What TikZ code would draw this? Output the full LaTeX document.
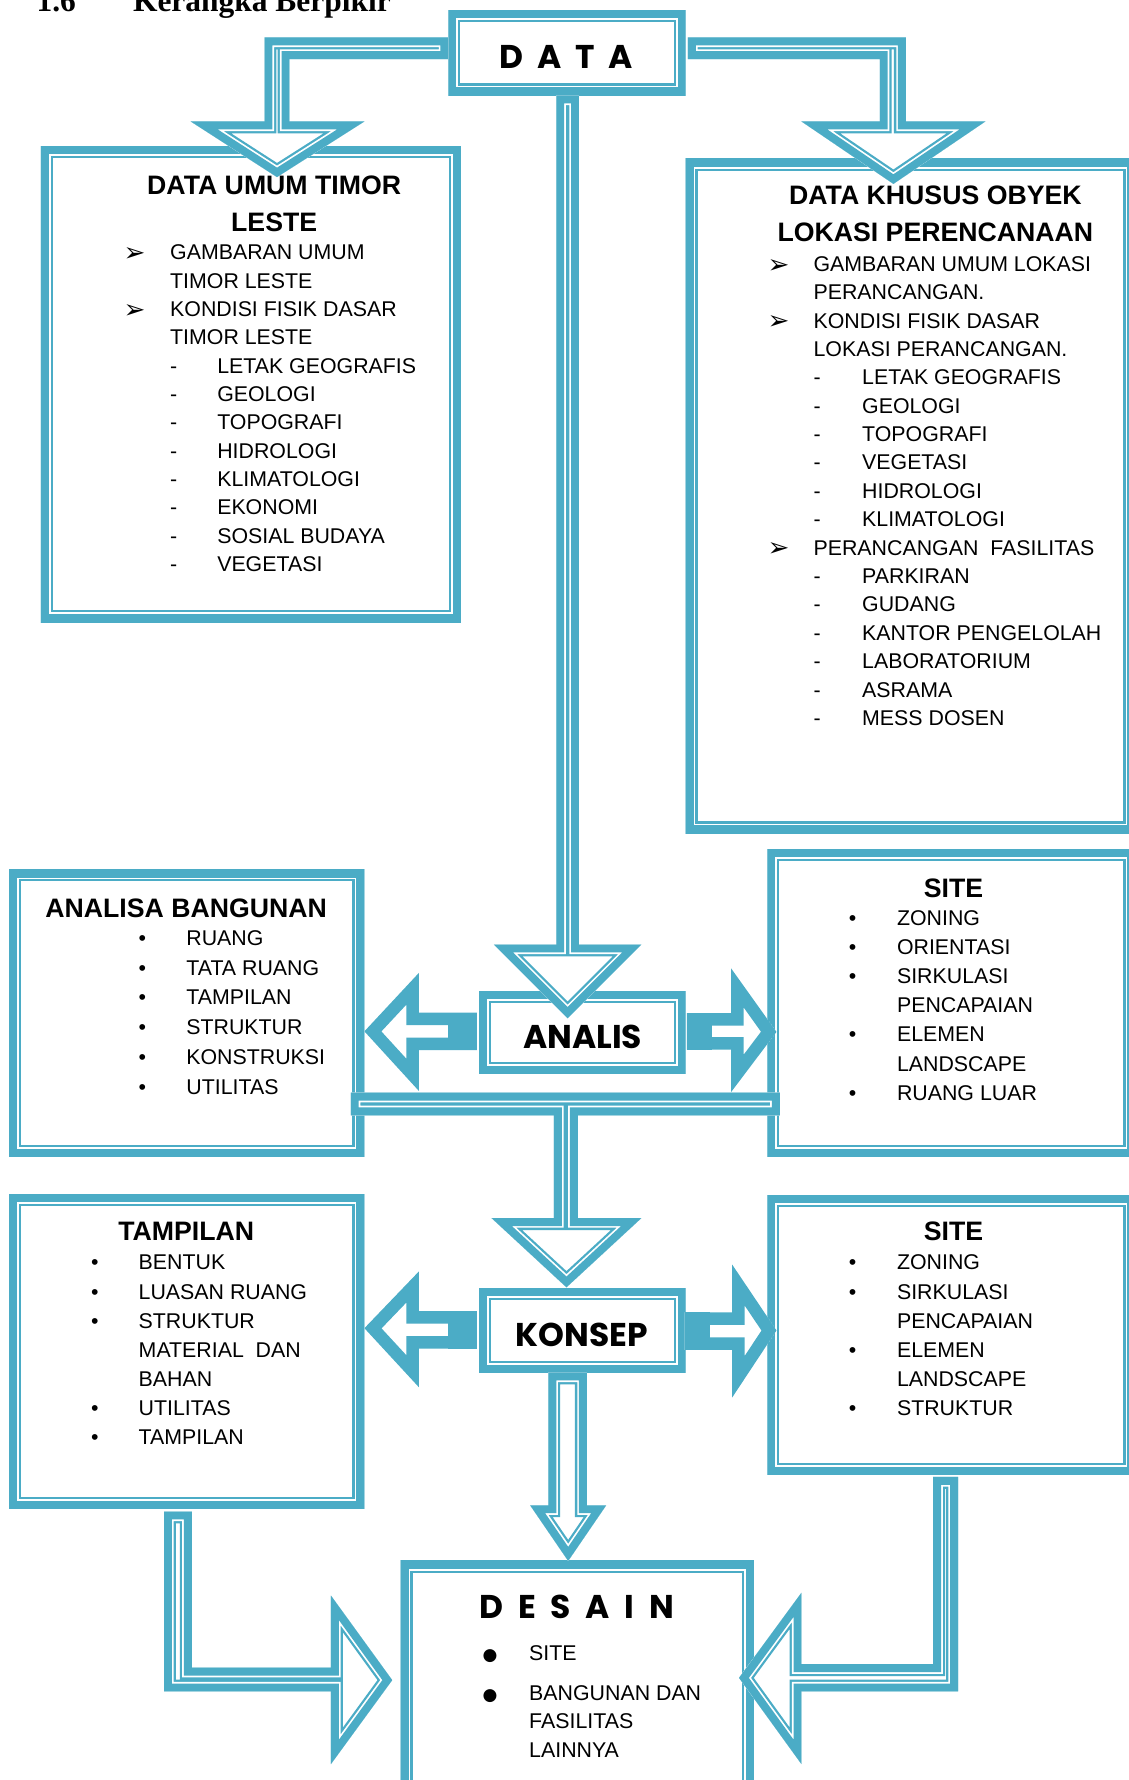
\documentclass[tikz,border=0pt]{standalone}
\usepackage{fontspec}
\setmainfont{Liberation Sans}
\newfontfamily\serifhead{Liberation Serif}
\newfontfamily\symfont{DejaVu Sans}
\newfontfamily\comicfont{Poppins}
\usetikzlibrary{calc}

\definecolor{aqua}{RGB}{75,172,198}

% garis tebal di luar, tipis di dalam
\newcommand\tebaltipis[1]{%
  \begin{scope}
    \clip #1;
    \fill[white] #1;
    \draw[aqua, line width=21pt] #1;
    \draw[white, line width=17pt] #1;
    \draw[aqua, line width=14pt] #1;
  \end{scope}}
% panah samping, garis tebal saja
\newcommand\panahtebal[1]{%
  \begin{scope}
    \clip #1;
    \fill[white] #1;
    \draw[aqua, line width=22pt] #1;
  \end{scope}}

% butir daftar
\newcommand\panahbutir[2]{\makebox[#1][l]{\raisebox{-1.5pt}{\symfont\fontsize{23}{23}\selectfont ➢}}#2}
\newcommand\strip[3]{\hspace*{#1}\makebox[#2][l]{-}#3}
\newcommand\titik[2]{\makebox[#1][l]{•}#2}
\newcommand\bulat[2]{\makebox[#1][l]{\symfont\fontsize{15}{15}\selectfont ●}#2}

\tikzset{
  kotak/.style={inner sep=0pt, outer sep=0pt},
  judul/.style={inner sep=0pt, anchor=base, font=\fontsize{23.5}{32.5}\selectfont\bfseries},
  isi/.style={inner sep=0pt, anchor=base west},
  huruf/.style={inner sep=0pt, anchor=base, font=\comicfont\bfseries\fontsize{29}{29}\selectfont},
}

\begin{document}
\begin{tikzpicture}[x=1pt, y=-1pt, line join=miter]
  \useasboundingbox (0,0) rectangle (994,1568);

  % Judul bab
  \node[inner sep=0pt, anchor=base west, font=\serifhead\bfseries\fontsize{27.7}{30}\selectfont] (nomor) at (32,10.3) {1.6};
  \node[inner sep=0pt, anchor=base west, font=\serifhead\bfseries\fontsize{27.7}{30}\selectfont] (bab) at (117,10.3) {Kerangka Berpikir};

  % Kotak-kotak
  \node[kotak, minimum width=209pt, minimum height=75pt] (data) at (499.5,46.5) {};
  \node[kotak, minimum width=370pt, minimum height=419pt] (umum) at (221,338.5) {};
  \node[kotak, minimum width=396pt, minimum height=594pt] (khusus) at (802,437) {};
  \node[kotak, minimum width=313pt, minimum height=253pt] (analisa) at (164.5,892.5) {};
  \node[kotak, minimum width=324pt, minimum height=271pt] (site1) at (838,883.5) {};
  \node[kotak, minimum width=182pt, minimum height=73pt] (analis) at (513,909.5) {};
  \node[kotak, minimum width=313pt, minimum height=277pt] (tampilan) at (164.5,1190.5) {};
  \node[kotak, minimum width=324pt, minimum height=246pt] (site2) at (838,1176) {};
  \node[kotak, minimum width=182pt, minimum height=74pt] (konsep) at (513,1172) {};
  \node[kotak, minimum width=311pt, minimum height=215pt] (desain) at (508.5,1482.5) {};
  \foreach \n in {data,umum,khusus,analisa,site1,analis,tampilan,site2,konsep,desain}
    \tebaltipis{(\n.north west) rectangle (\n.south east)};

  % Panah dari DATA
  \tebaltipis{($(data.west)+(0,-13.5)$) -- ++(-162,0) -- ++(0,74) -- ++(-65,0) -- ++(76,49) -- ++(77,-49) -- ++(-66,0) -- ++(0,-55) -- ++(140,0) -- cycle}
  \tebaltipis{($(data.east)+(2,-13.5)$) -- ++(192,0) -- ++(0,74) -- ++(70,0) -- ++(-81,55) -- ++(-81,-55) -- ++(69,0) -- ++(0,-55) -- ++(-169,0) -- cycle}
  \tebaltipis{($(data.south)+(-9.5,0)$) -- ++(0,748) -- ++(-55,0) -- ++(65,65) -- ++(65,-65) -- ++(-55,0) -- ++(0,-748) -- cycle}

  % Panah samping ANALIS
  \panahtebal{($(analis.west)+(-2,-17.5)$) -- ++(-51,0) -- ++(0,-35) -- ++(-48,51.5) -- ++(48,52.5) -- ++(0,-36) -- ++(51,0) -- cycle}
  \fill[aqua] ($(analis.west)+(-27,-17.5)$) rectangle ++(25,33);
  \panahtebal{($(analis.east)+(1,-17)$) -- ++(39,0) -- ++(0,-39.5) -- ++(40,56) -- ++(-40,53) -- ++(0,-37.5) -- ++(-39,0) -- cycle}
  \fill[aqua] ($(analis.east)+(1,-17)$) rectangle ++(22,32);

  % Panah samping KONSEP
  \panahtebal{($(konsep.west)+(-2,-17)$) -- ++(-51,0) -- ++(0,-35) -- ++(-48,50) -- ++(48,52) -- ++(0,-34) -- ++(51,0) -- cycle}
  \fill[aqua] ($(konsep.west)+(-27,-17)$) rectangle ++(25,33);
  \panahtebal{($(konsep.east)+(-1,-16)$) -- ++(42,0) -- ++(0,-42) -- ++(39,58) -- ++(-39,59) -- ++(0,-42) -- ++(-42,0) -- cycle}
  \fill[aqua] ($(konsep.east)+(-1,-16)$) rectangle ++(22,33);

  % ANALIS ke KONSEP
  \tebaltipis{($(analis.south)+(-204,16.5)$) -- ++(378,0) -- ++(0,20) -- ++(-178,0) -- ++(0,90.5) -- ++(56,0) -- ++(-66,61) -- ++(-66,-61) -- ++(55,0) -- ++(0,-90.5) -- ++(-179,0) -- cycle}

  % Panah ke DESAIN
  \tebaltipis{($(konsep.south)+(-30,0)$) -- ++(0,117) -- ++(-16,0) -- ++(33.5,49) -- ++(33.5,-49) -- ++(-17,0) -- ++(0,-117) -- cycle}
  \tebaltipis{($(tampilan.south)+(-20,2.5)$) -- ++(0,158.5) -- ++(147,0) -- ++(0,64) -- ++(54,-74) -- ++(-54,-74.5) -- ++(0,63.5) -- ++(-122.5,0) -- ++(0,-137.5) -- cycle}
  \tebaltipis{($(site2.south)+(6,2)$) -- ++(0,189) -- ++(-138,0) -- ++(0,64) -- ++(-55,-76) -- ++(55,-75) -- ++(0,63) -- ++(116,0) -- ++(0,-165) -- cycle}

  % Tulisan blok
  \node[huruf] (tdata) at (498.6,60.2) {D\hspace{12pt}A\hspace{12pt}T\hspace{12pt}A};
  \node[huruf] (tanalis) at (513.2,923.6) {ANALIS};
  \node[huruf] (tkonsep) at (512.5,1185.8) {KONSEP};
  \node[huruf] (tdesain) at (508,1426) {D\hspace{13pt}E\hspace{13pt}S\hspace{13pt}A\hspace{13pt}I\hspace{13pt}N};

  % Judul kotak
  \node[judul] (jumum) at (241.5,171) {\begin{tabular}[t]{@{}c@{}}DATA UMUM TIMOR\\ LESTE\end{tabular}};
  \node[judul] (jkhusus) at (824,180) {\begin{tabular}[t]{@{}c@{}}DATA KHUSUS OBYEK\\ LOKASI PERENCANAAN\end{tabular}};
  \node[judul] (janalisa) at (164,808) {ANALISA BANGUNAN};
  \node[judul] (jsite1) at (840,790.5) {SITE};
  \node[judul] (jsite2) at (840,1093) {SITE};
  \node[judul] (jtampilan) at (164,1093) {TAMPILAN};

  % Isi kotak
  \node[isi, font=\fontsize{18.8}{24.95}\selectfont] (iumum) at (108.7,229) {\begin{tabular}[t]{@{}l@{}}
    \panahbutir{41pt}{GAMBARAN UMUM}\\
    \hspace*{41pt}TIMOR LESTE\\
    \panahbutir{41pt}{KONDISI FISIK DASAR}\\
    \hspace*{41pt}TIMOR LESTE\\
    \strip{41pt}{41.5pt}{LETAK GEOGRAFIS}\\
    \strip{41pt}{41.5pt}{GEOLOGI}\\
    \strip{41pt}{41.5pt}{TOPOGRAFI}\\
    \strip{41pt}{41.5pt}{HIDROLOGI}\\
    \strip{41pt}{41.5pt}{KLIMATOLOGI}\\
    \strip{41pt}{41.5pt}{EKONOMI}\\
    \strip{41pt}{41.5pt}{SOSIAL BUDAYA}\\
    \strip{41pt}{41.5pt}{VEGETASI}
  \end{tabular}};
  \node[isi, font=\fontsize{18.8}{25}\selectfont] (ikhusus) at (676,239) {\begin{tabular}[t]{@{}l@{}}
    \panahbutir{40.5pt}{GAMBARAN UMUM LOKASI}\\
    \hspace*{40.5pt}PERANCANGAN.\\
    \panahbutir{40.5pt}{KONDISI FISIK DASAR}\\
    \hspace*{40.5pt}LOKASI PERANCANGAN.\\
    \strip{40.5pt}{42.8pt}{LETAK GEOGRAFIS}\\
    \strip{40.5pt}{42.8pt}{GEOLOGI}\\
    \strip{40.5pt}{42.8pt}{TOPOGRAFI}\\
    \strip{40.5pt}{42.8pt}{VEGETASI}\\
    \strip{40.5pt}{42.8pt}{HIDROLOGI}\\
    \strip{40.5pt}{42.8pt}{KLIMATOLOGI}\\
    \panahbutir{40.5pt}{PERANCANGAN\ \ FASILITAS}\\
    \strip{40.5pt}{42.8pt}{PARKIRAN}\\
    \strip{40.5pt}{42.8pt}{GUDANG}\\
    \strip{40.5pt}{42.8pt}{KANTOR PENGELOLAH}\\
    \strip{40.5pt}{42.8pt}{LABORATORIUM}\\
    \strip{40.5pt}{42.8pt}{ASRAMA}\\
    \strip{40.5pt}{42.8pt}{MESS DOSEN}
  \end{tabular}};
  \node[isi, font=\fontsize{18.8}{26.2}\selectfont] (ianalisa) at (122,832.8) {\begin{tabular}[t]{@{}l@{}}
    \titik{42pt}{RUANG}\\
    \titik{42pt}{TATA RUANG}\\
    \titik{42pt}{TAMPILAN}\\
    \titik{42pt}{STRUKTUR}\\
    \titik{42pt}{KONSTRUKSI}\\
    \titik{42pt}{UTILITAS}
  \end{tabular}};
  \node[isi, font=\fontsize{18.8}{25.7}\selectfont] (isite1) at (747.5,815) {\begin{tabular}[t]{@{}l@{}}
    \titik{42.5pt}{ZONING}\\
    \titik{42.5pt}{ORIENTASI}\\
    \titik{42.5pt}{SIRKULASI}\\
    \hspace*{42.5pt}PENCAPAIAN\\
    \titik{42.5pt}{ELEMEN}\\
    \hspace*{42.5pt}LANDSCAPE\\
    \titik{42.5pt}{RUANG LUAR}
  \end{tabular}};
  \node[isi, font=\fontsize{18.8}{25.6}\selectfont] (isite2) at (747.5,1118.7) {\begin{tabular}[t]{@{}l@{}}
    \titik{42.5pt}{ZONING}\\
    \titik{42.5pt}{SIRKULASI}\\
    \hspace*{42.5pt}PENCAPAIAN\\
    \titik{42.5pt}{ELEMEN}\\
    \hspace*{42.5pt}LANDSCAPE\\
    \titik{42.5pt}{STRUKTUR}
  \end{tabular}};
  \node[isi, font=\fontsize{18.8}{25.6}\selectfont] (itampilan) at (80,1118.7) {\begin{tabular}[t]{@{}l@{}}
    \titik{42pt}{BENTUK}\\
    \titik{42pt}{LUASAN RUANG}\\
    \titik{42pt}{STRUKTUR}\\
    \hspace*{42pt}MATERIAL\ \ DAN\\
    \hspace*{42pt}BAHAN\\
    \titik{42pt}{UTILITAS}\\
    \titik{42pt}{TAMPILAN}
  \end{tabular}};
  \node[isi, font=\fontsize{18.8}{25}\selectfont] (idesain) at (425,1463) {\begin{tabular}[t]{@{}l@{}}
    \bulat{41pt}{SITE}\\[10pt]
    \bulat{41pt}{BANGUNAN DAN}\\
    \hspace*{41pt}FASILITAS\\
    \hspace*{41pt}LAINNYA
  \end{tabular}};
\end{tikzpicture}
\end{document}
